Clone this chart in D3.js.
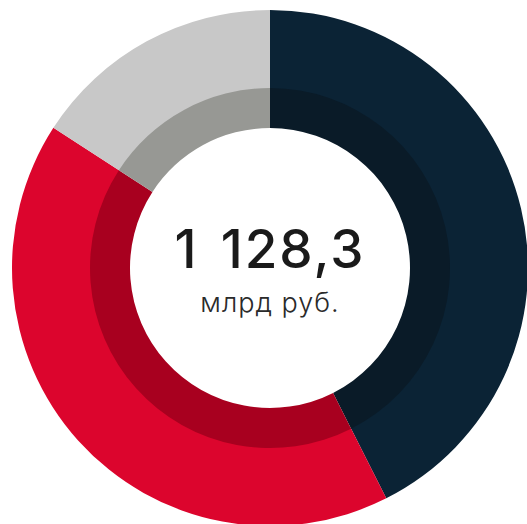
<!DOCTYPE html>
<html><head><meta charset="utf-8">
<script src="https://cdn.jsdelivr.net/npm/d3@7/dist/d3.min.js"></script>
<style>html,body{margin:0;padding:0;background:#fff;overflow:hidden}</style>
</head><body>
<svg id="chart" width="527" height="524"></svg>
<script>
const categories = ["A", "B", "C"];
const values = [42.56, 41.58, 15.86];
const outerColors = ["#0b2335", "#dc052d", "#c8c8c8"];
const innerColors = ["#0a1b28", "#a8001f", "#979894"];
const totalLabel = "1 128,3";
const unitLabel = "млрд руб.";

const svg = d3.select("#chart");
const cx = 270, cy = 268;
const g = svg.append("g").attr("transform", `translate(${cx},${cy})`);
const data = categories.map((c, i) => ({ c, v: values[i], i }));
const pie = d3.pie().value(d => d.v).sort(null);
const arcs = pie(data);
const outerArc = d3.arc().innerRadius(179).outerRadius(258);
const innerArc = d3.arc().innerRadius(140).outerRadius(180);

g.selectAll("path.outer").data(arcs).join("path").attr("class", "outer")
  .attr("d", outerArc).attr("fill", d => outerColors[d.data.i]);
g.selectAll("path.inner").data(arcs).join("path").attr("class", "inner")
  .attr("d", innerArc).attr("fill", d => innerColors[d.data.i]);

g.append("text").attr("x", 0).attr("y", 0).attr("text-anchor", "middle")
  .attr("font-family", "Inter, Roboto, sans-serif").attr("font-size", 53).attr("font-weight", 500)
  .attr("letter-spacing", 2).attr("word-spacing", 6)
  .attr("fill", "#1a1a1a").text(totalLabel);
g.append("text").attr("x", 0).attr("y", 44).attr("text-anchor", "middle")
  .attr("font-family", "Inter, Roboto, sans-serif").attr("font-size", 27).attr("font-weight", 300)
  .attr("letter-spacing", 1)
  .attr("fill", "#2a2a2a").text(unitLabel);
</script>
</body></html>
